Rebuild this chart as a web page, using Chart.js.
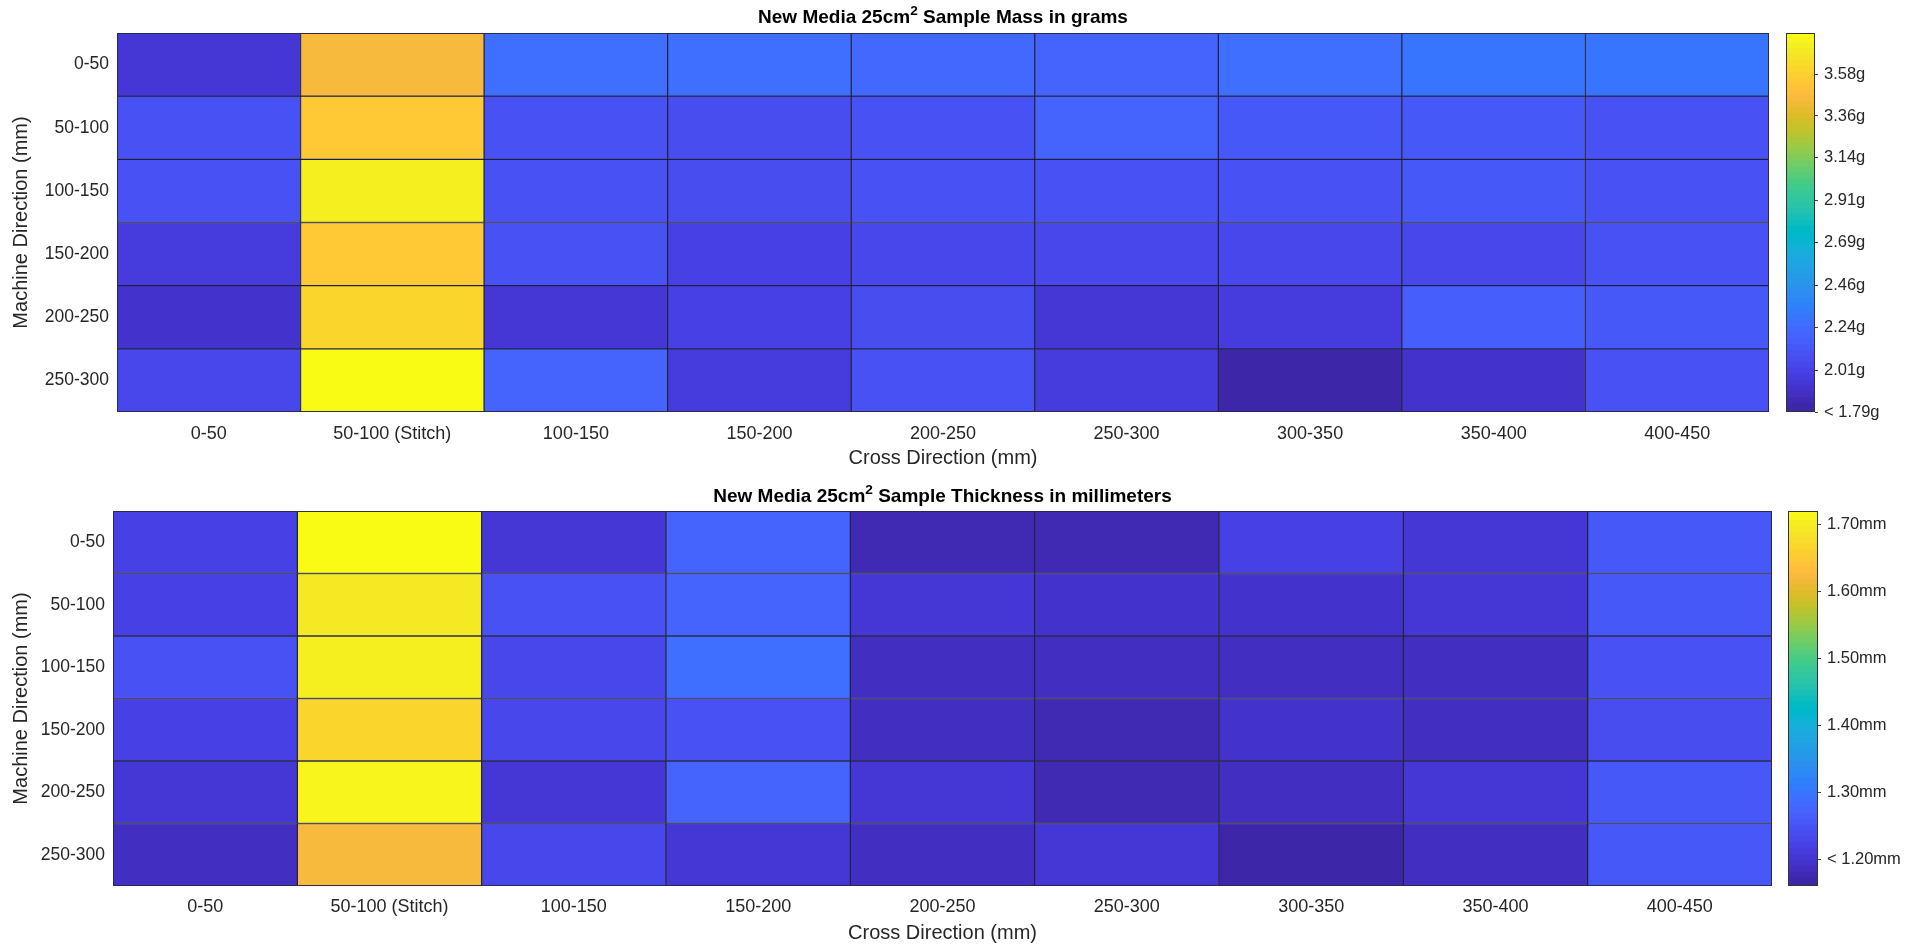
<!DOCTYPE html>
<html><head><meta charset="utf-8">
<script src="https://cdn.jsdelivr.net/npm/chart.js@4.4.1/dist/chart.umd.min.js"></script>
<style>
html,body{margin:0;padding:0;background:#fff;width:1910px;height:947px;overflow:hidden;}
.box{position:absolute;}
.ttl{position:absolute;left:0;text-align:center;font-family:"Liberation Sans",Arial,Helvetica,sans-serif;font-weight:bold;font-size:19px;line-height:22px;color:#000;white-space:nowrap;}
.ttl sup{font-size:0.72em;line-height:0;vertical-align:0.55em;}
</style></head><body>
<div class="box" style="left:0;top:0;width:1790px;height:470px"><canvas id="massMap"></canvas></div>
<div class="box" style="left:1775px;top:0;width:135px;height:470px"><canvas id="massBar"></canvas></div>
<div class="box" style="left:0;top:478px;width:1793px;height:469px"><canvas id="thickMap"></canvas></div>
<div class="box" style="left:1778px;top:478px;width:132px;height:469px"><canvas id="thickBar"></canvas></div>
<div class="ttl" style="top:6px;width:1886px">New Media 25cm<sup>2</sup> Sample Mass in grams</div>
<div class="ttl" style="top:485px;width:1885px">New Media 25cm<sup>2</sup> Sample Thickness in millimeters</div>
<script>
// ---------------- data ----------------
const colLabels = ['0-50','50-100 (Stitch)','100-150','150-200','200-250','250-300','300-350','350-400','400-450'];
const rowLabels = ['0-50','50-100','100-150','150-200','200-250','250-300'];

// sample mass (g), rows = machine direction, cols = cross direction
const massRow0 = [1.93, 3.44, 2.24, 2.24, 2.20, 2.18, 2.24, 2.28, 2.27];
const massRow1 = [2.09, 3.53, 2.09, 2.07, 2.09, 2.17, 2.12, 2.12, 2.09];
const massRow2 = [2.09, 3.72, 2.09, 2.06, 2.09, 2.09, 2.09, 2.12, 2.10];
const massRow3 = [1.96, 3.53, 2.09, 1.99, 2.03, 2.03, 2.01, 2.03, 2.09];
const massRow4 = [1.90, 3.61, 1.93, 1.99, 2.07, 1.93, 1.95, 2.14, 2.12];
const massRow5 = [2.03, 3.78, 2.18, 1.96, 2.09, 1.95, 1.80, 1.89, 2.09];

// sample thickness (mm)
const thickRow0 = [1.217, 1.715, 1.199, 1.269, 1.173, 1.169, 1.217, 1.199, 1.252];
const thickRow1 = [1.217, 1.689, 1.243, 1.269, 1.199, 1.191, 1.191, 1.199, 1.252];
const thickRow2 = [1.243, 1.698, 1.226, 1.287, 1.186, 1.178, 1.186, 1.182, 1.243];
const thickRow3 = [1.217, 1.659, 1.226, 1.243, 1.178, 1.173, 1.191, 1.182, 1.230];
const thickRow4 = [1.199, 1.707, 1.199, 1.269, 1.195, 1.169, 1.182, 1.199, 1.252];
const thickRow5 = [1.186, 1.619, 1.226, 1.199, 1.186, 1.199, 1.164, 1.182, 1.252];

const massRange = [1.79, 3.80];
const massTicks = [1.79, 2.01, 2.24, 2.46, 2.69, 2.91, 3.14, 3.36, 3.58];
const massTickLabels = ['< 1.79g','2.01g','2.24g','2.46g','2.69g','2.91g','3.14g','3.36g','3.58g'];

const thickRange = [1.16, 1.72];
const thickTicks = [1.20, 1.30, 1.40, 1.50, 1.60, 1.70];
const thickTickLabels = ['< 1.20mm','1.30mm','1.40mm','1.50mm','1.60mm','1.70mm'];

// ---------------- style ----------------
const parula = [
[0.2422,0.1504,0.6603],[0.2504,0.1650,0.7076],[0.2578,0.1818,0.7511],[0.2647,0.1978,0.7952],
[0.2706,0.2147,0.8364],[0.2751,0.2342,0.8710],[0.2783,0.2559,0.8991],[0.2803,0.2782,0.9221],
[0.2813,0.3006,0.9414],[0.2810,0.3228,0.9579],[0.2795,0.3447,0.9717],[0.2760,0.3667,0.9829],
[0.2699,0.3892,0.9906],[0.2602,0.4123,0.9952],[0.2440,0.4358,0.9988],[0.2206,0.4603,0.9973],
[0.1963,0.4847,0.9892],[0.1834,0.5074,0.9798],[0.1786,0.5289,0.9682],[0.1764,0.5499,0.9520],
[0.1687,0.5703,0.9359],[0.1540,0.5902,0.9218],[0.1460,0.6091,0.9079],[0.1380,0.6276,0.8973],
[0.1248,0.6459,0.8883],[0.1113,0.6635,0.8763],[0.0952,0.6798,0.8598],[0.0689,0.6948,0.8394],
[0.0297,0.7082,0.8163],[0.0036,0.7203,0.7917],[0.0067,0.7312,0.7660],[0.0433,0.7411,0.7394],
[0.0964,0.7500,0.7120],[0.1408,0.7584,0.6842],[0.1717,0.7670,0.6554],[0.1938,0.7758,0.6251],
[0.2161,0.7843,0.5923],[0.2470,0.7918,0.5567],[0.2906,0.7973,0.5188],[0.3406,0.8008,0.4789],
[0.3909,0.8029,0.4354],[0.4456,0.8024,0.3909],[0.5044,0.7993,0.3480],[0.5616,0.7942,0.3045],
[0.6174,0.7876,0.2612],[0.6720,0.7793,0.2227],[0.7242,0.7698,0.1910],[0.7738,0.7598,0.1646],
[0.8203,0.7498,0.1535],[0.8634,0.7406,0.1596],[0.9035,0.7330,0.1774],[0.9393,0.7288,0.2100],
[0.9728,0.7298,0.2394],[0.9956,0.7434,0.2371],[0.9970,0.7659,0.2199],[0.9952,0.7893,0.2028],
[0.9892,0.8136,0.1885],[0.9786,0.8386,0.1766],[0.9676,0.8639,0.1643],[0.9610,0.8890,0.1537],
[0.9597,0.9135,0.1423],[0.9628,0.9373,0.1265],[0.9691,0.9606,0.1064],[0.9769,0.9839,0.0805]];
function rgb(c){return 'rgb('+Math.round(c[0]*255)+','+Math.round(c[1]*255)+','+Math.round(c[2]*255)+')';}
function colorFor(v, range){
  const n = parula.length;
  let i = Math.floor((v - range[0]) / (range[1] - range[0]) * n);
  i = Math.max(0, Math.min(n - 1, i));
  return rgb(parula[i]);
}
const FAMILY = '"Liberation Sans", Arial, Helvetica, sans-serif';
const TXT = '#262626';

const framePlugin = {
  id: 'frame',
  afterDatasetsDraw(chart, args, opts) {
    const a = chart.chartArea, ctx = chart.ctx;
    ctx.save();
    ctx.strokeStyle = opts.color || '#333';
    ctx.lineWidth = 1;
    ctx.strokeRect(Math.round(a.left) + 0.5, Math.round(a.top) + 0.5, Math.round(a.right - a.left) - 1, Math.round(a.bottom - a.top) - 1);
    ctx.restore();
  }
};

function makeHeatmap(id, rows, range, lay) {
  const datasets = rowLabels.map((rl, r) => ({
    label: rl,
    data: colLabels.map(() => [r, r + 1]),
    backgroundColor: rows[r].map(v => colorFor(v, range)),
    borderColor: 'rgba(10,10,50,0.85)',
    borderWidth: 1,
    borderSkipped: false,
    grouped: false,
    barPercentage: 1,
    categoryPercentage: 1
  }));
  return new Chart(document.getElementById(id), {
    type: 'bar',
    data: { labels: colLabels, datasets },
    plugins: [framePlugin],
    options: {
      responsive: true, maintainAspectRatio: false, animation: false,
      layout: { padding: { left: 0, right: lay.padRight, top: 33, bottom: 0 } },
      plugins: {
        legend: { display: false }, tooltip: { enabled: false },
        frame: { color: 'rgba(40,40,80,0.9)' },
        title: { display: false }
      },
      scales: {
        x: {
          type: 'category', offset: true,
          grid: { display: false, drawTicks: false }, border: { display: false },
          ticks: { padding: lay.xTickPad, color: TXT, font: { family: FAMILY, size: 18 }, maxRotation: 0, autoSkip: false },
          title: { display: true, text: 'Cross Direction (mm)', color: TXT,
            font: { family: FAMILY, size: 20, lineHeight: 1.2 }, padding: { top: 0, bottom: lay.xTitlePad } },
          afterFit(s) { s.height = lay.xh; }
        },
        y: {
          type: 'linear', min: 0, max: rowLabels.length, reverse: true,
          grid: { display: false, drawTicks: false }, border: { display: false },
          afterBuildTicks(s) { s.ticks = rowLabels.map((_, i) => ({ value: i + 0.5 })); },
          ticks: { padding: 8, color: TXT, font: { family: FAMILY, size: 17.5 }, autoSkip: false,
            callback: (v) => rowLabels[Math.floor(v)] },
          title: { display: true, text: 'Machine Direction (mm)', color: TXT,
            font: { family: FAMILY, size: 20, lineHeight: 1.2 }, padding: { top: 9, bottom: 0 } },
          afterFit(s) { s.width = lay.yw; }
        }
      }
    }
  });
}

function makeColorbar(id, range, ticks, labels, lay) {
  const n = parula.length, span = range[1] - range[0];
  const datasets = parula.map((c, i) => ({
    data: [[range[0] + span * i / n, range[0] + span * (i + 1.4) / n]],
    backgroundColor: rgb(c), borderWidth: 0, grouped: false,
    barPercentage: 1, categoryPercentage: 1
  }));
  return new Chart(document.getElementById(id), {
    type: 'bar',
    data: { labels: [''], datasets },
    plugins: [framePlugin],
    options: {
      responsive: true, maintainAspectRatio: false, animation: false,
      layout: { padding: { left: lay.padLeft, right: 0, top: lay.padTop, bottom: lay.padBottom } },
      plugins: { legend: { display: false }, tooltip: { enabled: false }, title: { display: false },
        frame: { color: '#333' } },
      scales: {
        x: { display: false },
        y: {
          position: 'right', min: range[0], max: range[1],
          afterBuildTicks(s) { s.ticks = ticks.map(v => ({ value: v })); },
          ticks: { padding: 6, color: TXT, font: { family: FAMILY, size: 16.5 }, autoSkip: false,
            callback: (v, i) => labels[i] },
          grid: { drawOnChartArea: false, drawTicks: true, tickLength: 3, color: '#444' },
          border: { display: false },
          afterFit(s) { s.width = lay.axisW; }
        }
      }
    }
  });
}

const massRows = [massRow0, massRow1, massRow2, massRow3, massRow4, massRow5];
const thickRows = [thickRow0, thickRow1, thickRow2, thickRow3, thickRow4, thickRow5];

makeHeatmap('massMap', massRows, massRange,
  { padRight: 21, yw: 117, xh: 58, xTickPad: 11, xTitlePad: 0 });
makeColorbar('massBar', massRange, massTicks, massTickLabels,
  { padLeft: 11, padTop: 33, padBottom: 58, axisW: 95 });
makeHeatmap('thickMap', thickRows, thickRange,
  { padRight: 21, yw: 113, xh: 61, xTickPad: 10, xTitlePad: 2 });
makeColorbar('thickBar', thickRange, thickTicks, thickTickLabels,
  { padLeft: 10, padTop: 33, padBottom: 61, axisW: 92 });
</script>
</body></html>
